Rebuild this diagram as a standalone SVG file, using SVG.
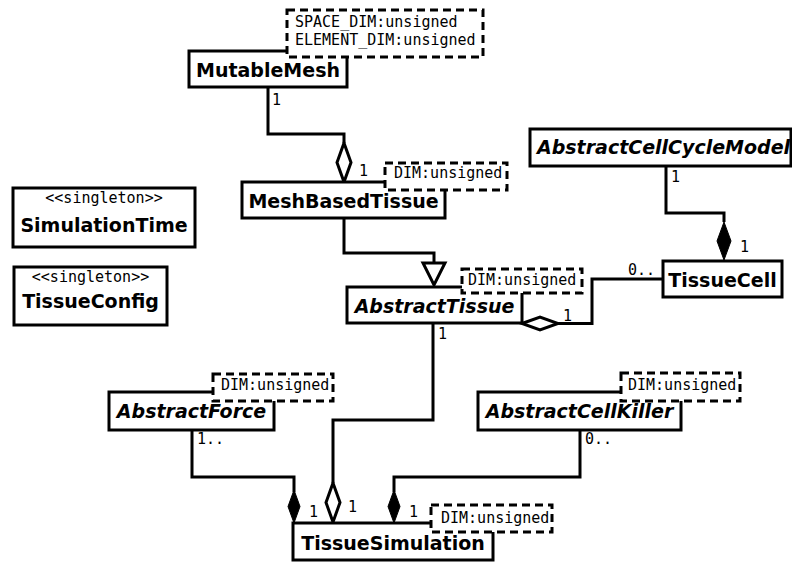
<svg xmlns="http://www.w3.org/2000/svg" width="792" height="562" viewBox="0 0 792 562">
<style>
.box{fill:#fff;stroke:#000;stroke-width:3}
.tmpl{fill:#fff;stroke:#000;stroke-width:3;stroke-dasharray:8 5}
.name{font-family:"DejaVu Sans",sans-serif;font-weight:bold;font-size:19px;text-anchor:middle;fill:#000}
.abs{font-style:italic}
.mono{font-family:"DejaVu Sans Mono",monospace;font-size:15px;fill:#000}
.c{fill:none;stroke:#000;stroke-width:3}
.od{fill:#fff;stroke:#000;stroke-width:3}
.fd{fill:#000;stroke:#000;stroke-width:1}
</style>
<rect width="792" height="562" fill="#fff"/>
<g id="connectors">
<path class="c" d="M268,87 V134 H344 V143"/>
<polygon class="od" points="344,143 351,162.5 344,182 337,162.5"/>
<text class="mono" x="272" y="105">1</text>
<text class="mono" x="359" y="176">1</text>
<path class="c" d="M344,218 V253 H434 V263"/>
<polygon class="od" points="423,263 445,263 434,285"/>
<path class="c" d="M558,323.5 H592 V279 H663"/>
<polygon class="od" points="522,323.5 540,317 558,323.5 540,330"/>
<text class="mono" x="563" y="321">1</text>
<text class="mono" x="628" y="275">0..</text>
<path class="c" d="M666,166 V213 H724 V222"/>
<polygon class="fd" points="724,222 731,241 724,260 717,241"/>
<text class="mono" x="671" y="182">1</text>
<text class="mono" x="740" y="252">1</text>
<path class="c" d="M433,323 V420 H333 V483"/>
<polygon class="od" points="333,483 340,502.5 333,522 326,502.5"/>
<text class="mono" x="438" y="339">1</text>
<text class="mono" x="348" y="512">1</text>
<path class="c" d="M192,430 V477 H294 V492"/>
<polygon class="fd" points="294,490 300,506.5 294,523 288,506.5"/>
<text class="mono" x="197" y="444">1..</text>
<text class="mono" x="309" y="517">1</text>
<path class="c" d="M580,430 V477 H394 V492"/>
<polygon class="fd" points="394,490 400,506.5 394,523 388,506.5"/>
<text class="mono" x="585" y="444">0..</text>
<text class="mono" x="409" y="517">1</text>
</g>
<g id="MutableMesh">
<rect class="box" x="189" y="51" width="158" height="36"/>
<text class="name" x="268" y="77">MutableMesh</text>
<rect class="tmpl" x="287" y="10" width="196" height="47"/>
<text class="mono" x="295" y="27">SPACE_DIM:unsigned</text>
<text class="mono" x="295" y="45">ELEMENT_DIM:unsigned</text>
</g>
<g id="MeshBasedTissue">
<rect class="box" x="242" y="182" width="203" height="36"/>
<text class="name" x="343.5" y="208">MeshBasedTissue</text>
<rect class="tmpl" x="385" y="163" width="122" height="27"/>
<text class="mono" x="394" y="178">DIM:unsigned</text>
</g>
<g id="AbstractTissue">
<rect class="box" x="347" y="287" width="175" height="36"/>
<text class="name abs" x="434.5" y="313">AbstractTissue</text>
<rect class="tmpl" x="462" y="269" width="120" height="24"/>
<text class="mono" x="468" y="285">DIM:unsigned</text>
</g>
<g id="TissueCell">
<rect class="box" x="663" y="261" width="119" height="36"/>
<text class="name" x="722.5" y="287">TissueCell</text>
</g>
<g id="AbstractCellCycleModel">
<rect x="530" y="129" width="261" height="37" fill="#fff"/>
<text class="name abs" x="537" y="154" style="text-anchor:start">AbstractCellCycleModel</text>
<rect x="530" y="129" width="261" height="37" fill="none" stroke="#000" stroke-width="3"/>
</g>
<g id="SimulationTime">
<rect class="box" x="13" y="188" width="182" height="59"/>
<text class="mono" x="104" y="203" text-anchor="middle">&lt;&lt;singleton&gt;&gt;</text>
<text class="name" x="104" y="232">SimulationTime</text>
</g>
<g id="TissueConfig">
<rect class="box" x="14" y="267" width="153" height="58"/>
<text class="mono" x="90.5" y="282" text-anchor="middle">&lt;&lt;singleton&gt;&gt;</text>
<text class="name" x="90.5" y="308">TissueConfig</text>
</g>
<g id="AbstractForce">
<rect class="box" x="109" y="392" width="165" height="38"/>
<text class="name abs" x="191.5" y="418">AbstractForce</text>
<rect class="tmpl" x="213" y="374" width="120" height="27"/>
<text class="mono" x="221" y="390">DIM:unsigned</text>
</g>
<g id="AbstractCellKiller">
<rect class="box" x="478" y="392" width="203" height="38"/>
<text class="name abs" x="579.5" y="418">AbstractCellKiller</text>
<rect class="tmpl" x="621" y="373" width="119" height="28"/>
<text class="mono" x="628" y="390">DIM:unsigned</text>
</g>
<g id="TissueSimulation">
<rect class="box" x="293" y="523" width="200" height="37"/>
<text class="name" x="393" y="550">TissueSimulation</text>
<rect class="tmpl" x="431" y="505" width="121" height="27"/>
<text class="mono" x="441" y="523">DIM:unsigned</text>
</g>
</svg>
